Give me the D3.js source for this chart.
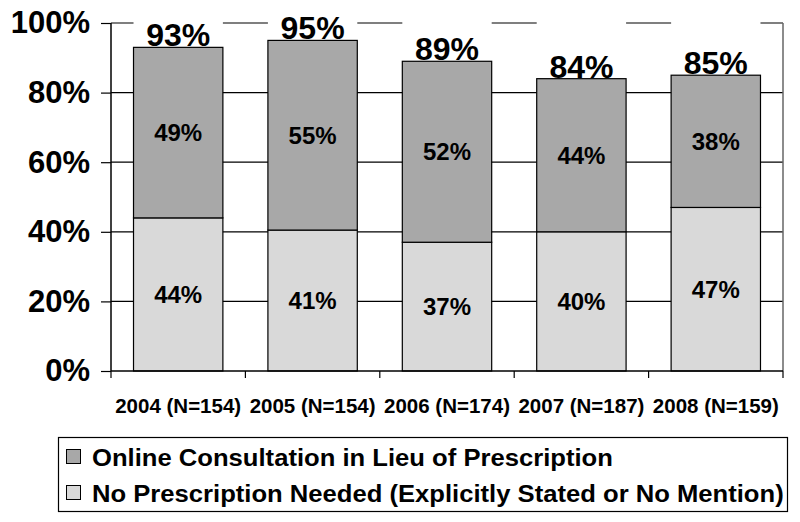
<!DOCTYPE html>
<html>
<head>
<meta charset="utf-8">
<script src="https://cdn.jsdelivr.net/npm/d3@7"></script>
<style>
  html, body { margin: 0; padding: 0; background: #fff; }
  svg { display: block; font-family: "Liberation Sans", Arial, sans-serif; font-weight: bold; }
</style>
</head>
<body>
<svg id="chart" width="800" height="522"></svg>
<script>
// ---- data ----
const categories = ["2004 (N=154)", "2005 (N=154)", "2006 (N=174)", "2007 (N=187)", "2008 (N=159)"];
const noRxNeeded = [44, 40.5, 37, 40, 47];          // No Prescription Needed (bottom)
const onlineConsult = [49, 54.5, 52, 44, 38];       // Online Consultation (top)
const seriesNames = ["Online Consultation in Lieu of Prescription",
                     "No Prescription Needed (Explicitly Stated or No Mention)"];
const yTicks = [0, 20, 40, 60, 80, 100];

// ---- setup ----
const svg = d3.select("#chart");
const colTop = "#a8a8a8", colBottom = "#d9d9d9";

const x = d3.scaleBand().domain(categories).range([111, 783]).paddingInner(0.335).paddingOuter(0.1675);
const y = d3.scaleLinear().domain([0, 100]).range([371, 23]);

const rows = categories.map((c, i) => ({ cat: c, noRx: noRxNeeded[i], consult: onlineConsult[i] }));
const stack = d3.stack().keys(["noRx", "consult"])(rows);

// gridlines
svg.append("g").selectAll("line").data(yTicks.filter(t => t > 0)).join("line")
  .attr("x1", 111).attr("x2", 783)
  .attr("y1", d => y(d)).attr("y2", d => y(d))
  .attr("stroke", "#000").attr("stroke-width", 1.2);

// right border of plot area
svg.append("line").attr("x1", 783).attr("x2", 783).attr("y1", y(100)).attr("y2", y(0))
  .attr("stroke", "#666").attr("stroke-width", 1.5);

// white "remainder" on top of each bar (hides gridline behind totals)
svg.append("g").selectAll("rect").data(rows).join("rect")
  .attr("x", d => x(d.cat)).attr("width", x.bandwidth())
  .attr("y", y(104)).attr("height", d => y(d.noRx + d.consult) - y(104))
  .attr("fill", "#fff");

// bars
const colors = { noRx: colBottom, consult: colTop };
stack.forEach(layer => {
  svg.append("g").selectAll("rect").data(layer).join("rect")
    .attr("x", d => x(d.data.cat)).attr("width", x.bandwidth())
    .attr("y", d => y(d[1])).attr("height", d => y(d[0]) - y(d[1]))
    .attr("fill", colors[layer.key]).attr("stroke", "#000").attr("stroke-width", 1.2);
  // segment labels
  svg.append("g").selectAll("text").data(layer).join("text")
    .attr("x", d => x(d.data.cat) + x.bandwidth() / 2)
    .attr("y", d => (y(d[0]) + y(d[1])) / 2)
    .attr("dy", "0.36em").attr("text-anchor", "middle")
    .attr("font-size", 24).attr("fill", "#000")
    .text(d => Math.round(d[1] - d[0]) + "%");
});

// totals
svg.append("g").selectAll("text").data(rows).join("text")
  .attr("x", d => x(d.cat) + x.bandwidth() / 2)
  .attr("y", d => y(d.noRx + d.consult) - 1)
  .attr("text-anchor", "middle").attr("font-size", 32).attr("fill", "#000")
  .text(d => Math.round(d.noRx + d.consult) + "%");

// y axis
const yAxis = d3.axisLeft(y).tickValues(yTicks).tickFormat(d => d + "%").tickSize(10).tickPadding(11);
const gy = svg.append("g").attr("transform", "translate(111,0)").call(yAxis);
gy.select(".domain").attr("stroke", "#000").attr("stroke-width", 1.5).attr("d", `M0,${y(100)}V${y(0)}`);
gy.selectAll(".tick line").attr("stroke", "#000").attr("stroke-width", 1.2);
gy.selectAll(".tick text").attr("font-size", 31).attr("font-family", "Liberation Sans, Arial, sans-serif")
  .attr("font-weight", "bold").attr("fill", "#000");

// x axis
svg.append("line").attr("x1", 111).attr("x2", 783).attr("y1", y(0)).attr("y2", y(0))
  .attr("stroke", "#000").attr("stroke-width", 1.5);
const step = x.step();
svg.append("g").selectAll("line").data(d3.range(categories.length + 1)).join("line")
  .attr("x1", i => 111 + i * step).attr("x2", i => 111 + i * step)
  .attr("y1", y(0)).attr("y2", y(0) + 7)
  .attr("stroke", "#000").attr("stroke-width", 1.2);
svg.append("g").selectAll("text").data(categories).join("text")
  .attr("x", d => x(d) + x.bandwidth() / 2).attr("y", 413)
  .attr("text-anchor", "middle").attr("font-size", 20.5).attr("fill", "#000")
  .text(d => d);

// legend
const lg = svg.append("g");
lg.append("rect").attr("x", 58.5).attr("y", 437.5).attr("width", 729).attr("height", 74)
  .attr("fill", "#fff").attr("stroke", "#000").attr("stroke-width", 1.2);
const legendColors = [colTop, colBottom];
const legendStretch = 1.09;
seriesNames.forEach((name, i) => {
  const cy = 457 + i * 36;
  lg.append("rect").attr("x", 66.5).attr("y", cy - 7.5).attr("width", 14).attr("height", 14)
    .attr("fill", legendColors[i]).attr("stroke", "#000").attr("stroke-width", 1);
  const t = lg.append("text").attr("x", 92).attr("y", cy + 9).attr("font-size", 23.5).attr("fill", "#000").text(name);
  const w = t.node().getComputedTextLength();
  t.attr("textLength", w * legendStretch).attr("lengthAdjust", "spacingAndGlyphs");
});
</script>
</body>
</html>
